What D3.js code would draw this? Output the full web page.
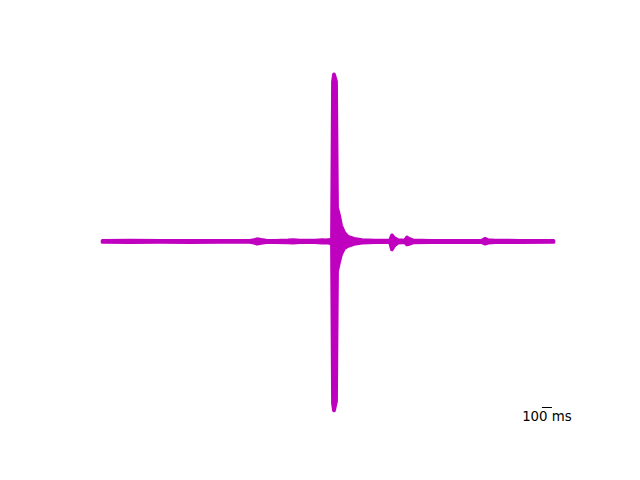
<!DOCTYPE html>
<html>
<head>
<meta charset="utf-8">
<script src="https://cdn.jsdelivr.net/npm/d3@7"></script>
<style>
  html, body { margin: 0; padding: 0; background: #fff; }
  svg { display: block; }
</style>
</head>
<body>
<svg id="chart" width="640" height="480"></svg>
<script>
// ---- data ----
// time in ms
const timeMs = [0, 275, 575, 875, 1175, 1475, 1515, 1545, 1585, 1635, 1725, 1855, 1905, 1975, 2125, 2195, 2235, 2275, 2295,
  2305, 2315, 2335, 2345, 2365, 2385, 2415, 2455, 2515, 2595, 2725, 2875, 2895, 2915, 2955, 3025, 3045, 3065, 3105,
  3275, 3575, 3795, 3825, 3855, 3925, 4175, 4510];
// upper envelope of the trace (arbitrary units)
const upperEnv = [0.5, 0.7, 0.5, 0.6, 0.5, 0.6, 1.2, 2.2, 1.5, 0.8, 0.6, 0.9, 1.2, 0.8, 0.7, 1.2, 0.9, 1.5, 3,
  160, 167, 160, 34, 26, 16, 9, 4.5, 2.5, 1.2, 0.7, 0.7, 6, 3.5, 1.2, 0.8, 4, 2.5, 1.0,
  0.6, 0.6, 0.8, 2.6, 1.2, 0.8, 0.6, 0.5];
// lower envelope of the trace (arbitrary units)
const lowerEnv = [-0.5, -0.6, -0.5, -0.6, -0.5, -0.5, -1.2, -2.2, -1.4, -0.8, -0.6, -0.9, -1.1, -0.8, -0.7, -1.2, -0.9, -1.5, -3,
  -162, -169, -160, -30, -21, -13, -7, -4.5, -2.5, -1.2, -0.7, -0.7, -8, -4.5, -1.2, -0.8, -3, -2.5, -1.0,
  -0.6, -0.6, -0.8, -2.2, -1.2, -0.8, -0.6, -0.5];
const scaleBarStartMs = 4395;
const scaleBarMs = 100;
const scaleBarLabel = "100 ms";

// ---- layout ----
const W = 640, H = 480;
const axL = 80, axR = 576, axT = 57.6, axB = 427.2;
const color = "#bf00bf";

const svg = d3.select("#chart");

const tMin = d3.min(timeMs), tMax = d3.max(timeMs);
const tPad = (tMax - tMin) * 0.05;
const x = d3.scaleLinear().domain([tMin - tPad, tMax + tPad]).range([axL, axR]);

const vMin = d3.min(lowerEnv), vMax = d3.max(upperEnv);
const vPad = (vMax - vMin) * 0.05;
const y = d3.scaleLinear().domain([vMin - vPad, vMax + vPad]).range([axB, axT]);

const pts = timeMs.map((t, i) => ({ t, hi: upperEnv[i], lo: lowerEnv[i] }));

const area = d3.area()
  .x(d => x(d.t))
  .y0(d => y(d.lo))
  .y1(d => y(d.hi))
  .curve(d3.curveLinear);

svg.append("path")
  .datum(pts)
  .attr("d", area)
  .attr("fill", color)
  .attr("stroke", color)
  .attr("stroke-width", 3.8)
  .attr("stroke-linejoin", "round")
  .attr("stroke-linecap", "round");

// ---- scale bar ----
const barY = 407.5;
svg.append("line")
  .attr("x1", x(scaleBarStartMs))
  .attr("x2", x(scaleBarStartMs + scaleBarMs))
  .attr("y1", barY)
  .attr("y2", barY)
  .attr("stroke", "#000")
  .attr("stroke-width", 1);

svg.append("text")
  .attr("x", (x(scaleBarStartMs) + x(scaleBarStartMs + scaleBarMs)) / 2)
  .attr("y", 421)
  .attr("text-anchor", "middle")
  .attr("font-family", "DejaVu Sans, sans-serif")
  .attr("font-size", "13.33px")
  .attr("fill", "#000")
  .text(scaleBarLabel);
</script>
</body>
</html>
